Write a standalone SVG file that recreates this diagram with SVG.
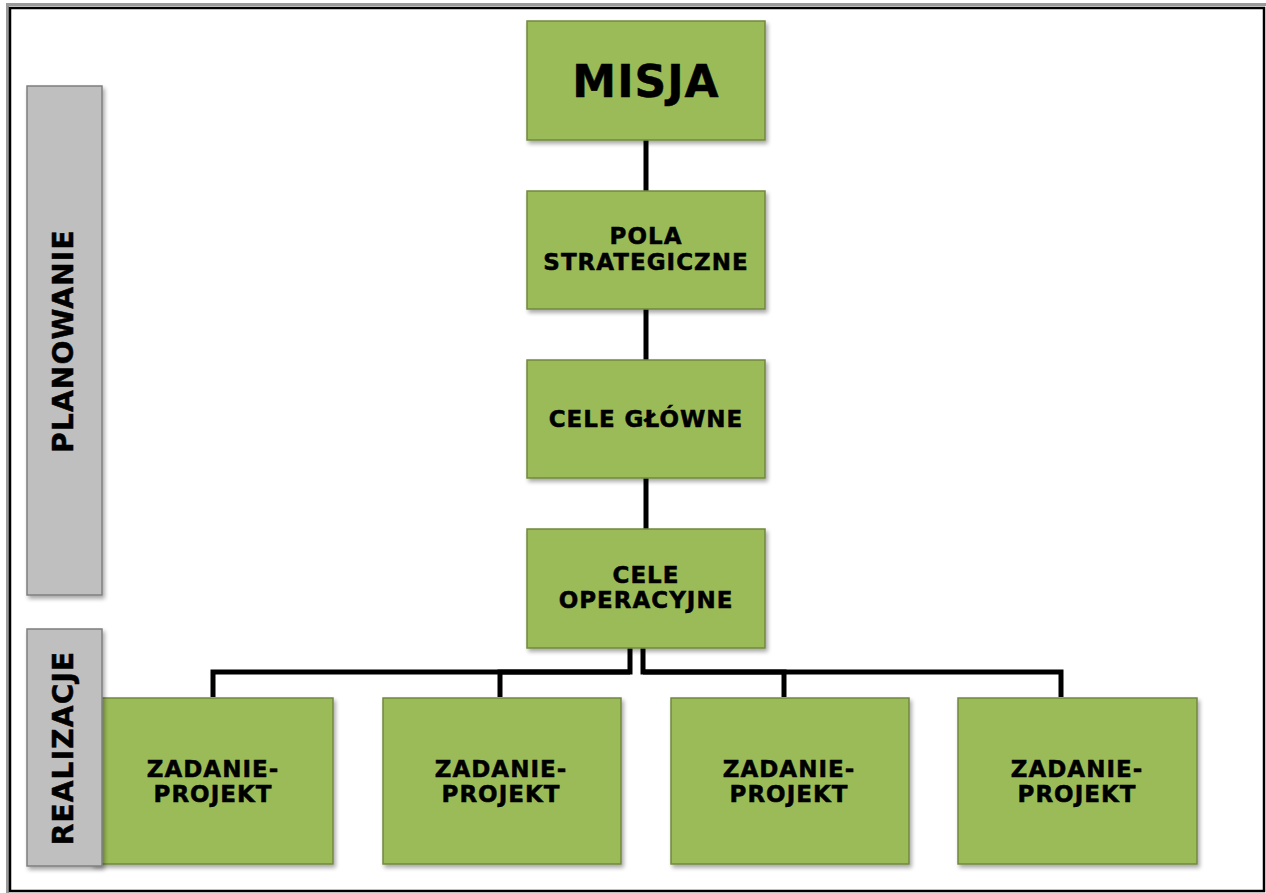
<svg xmlns="http://www.w3.org/2000/svg" width="1266" height="893" viewBox="0 0 1266 893">
<defs>
<style>
.g{fill:#9BBB59;stroke:#71893F;stroke-width:1.5;filter:url(#sh)}
.s{fill:#BFBFBF;stroke:#7F7F7F;stroke-width:1.5;filter:url(#sh)}
.t{font-family:"DejaVu Sans","Verdana",sans-serif;font-weight:bold;fill:#000;text-anchor:middle;stroke:#000;stroke-width:0.5}
.m{font-size:23px;letter-spacing:1px}
.v{font-size:28px;letter-spacing:1.2px}
.c{fill:none;stroke:#000;stroke-width:5}
</style>
<filter id="sh" x="-10%" y="-10%" width="125%" height="125%">
<feGaussianBlur in="SourceAlpha" stdDeviation="2"/>
<feOffset dx="2" dy="3" result="b"/>
<feComponentTransfer><feFuncA type="linear" slope="0.35"/></feComponentTransfer>
<feMerge><feMergeNode/><feMergeNode in="SourceGraphic"/></feMerge>
</filter>
</defs>
<rect x="0" y="0" width="1266" height="893" fill="#fff"/>
<path d="M7.5,893 V4.5 H1266" fill="none" stroke="#9a9a9a" stroke-width="3"/>
<rect x="10" y="8" width="1254" height="883" fill="#fff" stroke="#000" stroke-width="2.5"/>

<g id="connectors">
<line class="c" x1="646" y1="140" x2="646" y2="191"/>
<line class="c" x1="646" y1="309" x2="646" y2="360"/>
<line class="c" x1="646" y1="478" x2="646" y2="529"/>
<path class="c" d="M630,648 V672 H213 V697"/>
<path class="c" d="M630,672 H500 V697"/>
<path class="c" d="M643,648 V672 H1061 V697"/>
<path class="c" d="M643,672 H784 V697"/>
</g>

<g id="zadanie1">
<rect class="g" x="92" y="698" width="241" height="166"/>
<text class="t m" x="213" y="777">ZADANIE-</text>
<text class="t m" x="213" y="802">PROJEKT</text>
</g>
<g id="planowanie">
<rect class="s" x="27" y="86" width="75" height="509"/>
<text class="t v" transform="translate(73,341) rotate(-90)">PLANOWANIE</text>
</g>
<g id="realizacje">
<rect class="s" x="27" y="629" width="75" height="237"/>
<text class="t v" transform="translate(73,748) rotate(-90)">REALIZACJE</text>
</g>

<g id="misja">
<rect class="g" x="527" y="21" width="238" height="119"/>
<text class="t" x="646" y="97" font-size="44" letter-spacing="1">MISJA</text>
</g>
<g id="pola">
<rect class="g" x="527" y="191" width="238" height="118"/>
<text class="t m" x="646" y="244">POLA</text>
<text class="t m" x="646" y="270">STRATEGICZNE</text>
</g>
<g id="cele-glowne">
<rect class="g" x="527" y="360" width="238" height="118"/>
<text class="t m" x="646" y="427">CELE GŁÓWNE</text>
</g>
<g id="cele-operacyjne">
<rect class="g" x="527" y="529" width="238" height="119"/>
<text class="t m" x="646" y="583">CELE</text>
<text class="t m" x="646" y="608">OPERACYJNE</text>
</g>
<g id="zadanie2">
<rect class="g" x="383" y="698" width="238" height="166"/>
<text class="t m" x="501" y="777">ZADANIE-</text>
<text class="t m" x="501" y="802">PROJEKT</text>
</g>
<g id="zadanie3">
<rect class="g" x="671" y="698" width="238" height="166"/>
<text class="t m" x="789" y="777">ZADANIE-</text>
<text class="t m" x="789" y="802">PROJEKT</text>
</g>
<g id="zadanie4">
<rect class="g" x="958" y="698" width="239" height="166"/>
<text class="t m" x="1077" y="777">ZADANIE-</text>
<text class="t m" x="1077" y="802">PROJEKT</text>
</g>
</svg>
